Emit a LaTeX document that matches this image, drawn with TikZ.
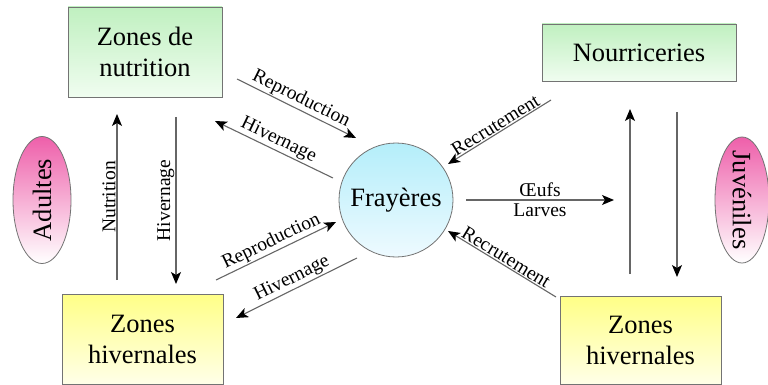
\documentclass[tikz,border=0pt]{standalone}
\usepackage{fontspec}
\setmainfont{Liberation Serif}
\usetikzlibrary{arrows.meta,shapes.geometric}
\definecolor{gtop}{RGB}{192,240,192}
\definecolor{gbot}{RGB}{240,253,240}
\definecolor{ytop}{RGB}{255,255,135}
\definecolor{ybot}{RGB}{255,255,232}
\definecolor{ctop}{RGB}{180,238,250}
\definecolor{cbot}{RGB}{238,250,255}
\definecolor{ptop}{RGB}{238,95,170}
\definecolor{pbot}{RGB}{255,255,255}
\begin{document}
\begin{tikzpicture}[x=1pt,y=-1pt,
  box/.style={draw=black!55, line width=0.8pt, align=center, inner sep=0pt,
    font=\fontsize{26.5}{31}\selectfont},
  greenbox/.style={box, top color=gtop, bottom color=gbot},
  yellowbox/.style={box, top color=ytop, bottom color=ybot},
  pinkell/.style={ellipse, draw=black!55, line width=0.8pt, inner sep=0pt,
    top color=ptop, bottom color=pbot},
  bigtxt/.style={font=\fontsize{26.5}{30}\selectfont},
  arr/.style={draw=black!60, line width=1.1pt,
    -{Stealth[length=12pt,width=10pt,inset=3pt,color=black]}},
  lab/.style={font=\fontsize{19.5}{22}\selectfont, inner sep=1pt, text=black}
]
\useasboundingbox (0,0) rectangle (768,385);

% nodes
\node[greenbox, minimum width=154pt, minimum height=90pt] (zn) at (145,52) {Zones de\\nutrition};
\node[greenbox, minimum width=194pt, minimum height=57pt] (nour) at (639,52.5) {Nourriceries};
\node[yellowbox, minimum width=161pt, minimum height=90pt] (zhl) at (142.5,339) {Zones\\hivernales};
\node[yellowbox, minimum width=161pt, minimum height=88pt] (zhr) at (640.5,340.5) {Zones\\hivernales};
\node[circle, draw=black!55, line width=0.8pt, minimum size=114pt, inner sep=0pt,
  top color=ctop, bottom color=cbot, bigtxt] (fr) at (396,200) {Frayères};
\node[pinkell, minimum width=58pt, minimum height=127pt] (ad) at (42,200) {};
\node[rotate=90, bigtxt] (adt) at (ad.center) {Adultes};
\node[pinkell, minimum width=54pt, minimum height=126pt] (juv) at (742,200) {};
\node[rotate=-90, bigtxt] (juvt) at (juv.center) {Juvéniles};

% coordinates for free arrow ends
\coordinate (n1) at (117,280); \coordinate (n2) at (117,114);
\coordinate (h1) at (176,117); \coordinate (h2) at (176,284);
\coordinate (r1) at (237,79);  \coordinate (r2) at (356,138);
\coordinate (v1) at (333,178); \coordinate (v2) at (215,121);
\coordinate (r3) at (216,280); \coordinate (r4) at (336,222);
\coordinate (v3) at (357,258); \coordinate (v4) at (236,318);
\coordinate (c1) at (551,100); \coordinate (c2) at (448,164);
\coordinate (c3) at (556,297); \coordinate (c4) at (448,231);
\coordinate (o1) at (466,200); \coordinate (o2) at (614,200);
\coordinate (j1) at (630,274); \coordinate (j2) at (630,109);
\coordinate (k1) at (677,112); \coordinate (k2) at (677,277);

% arrows
\draw[arr] (n1) -- node[lab, rotate=90, anchor=south] {Nutrition} (n2);
\draw[arr] (h1) -- node[lab, rotate=90, anchor=south] {Hivernage} (h2);
\draw[arr] (r1) -- node[lab, sloped, above] {Reproduction} (r2);
\draw[arr] (v1) -- node[lab, sloped, above] {Hivernage} (v2);
\draw[arr] (r3) -- node[lab, sloped, above] {Reproduction} (r4);
\draw[arr] (v3) -- node[lab, sloped, above] {Hivernage} (v4);
\draw[arr] (c1) -- node[lab, sloped, above] {Recrutement} (c2);
\draw[arr] (c3) -- node[lab, sloped, above] {Recrutement} (c4);
\draw[arr] (o1) -- node[lab, above=2pt] {Œufs} node[lab, below=2pt] {Larves} (o2);
\draw[arr] (j1) -- (j2);
\draw[arr] (k1) -- (k2);
\end{tikzpicture}
\end{document}
